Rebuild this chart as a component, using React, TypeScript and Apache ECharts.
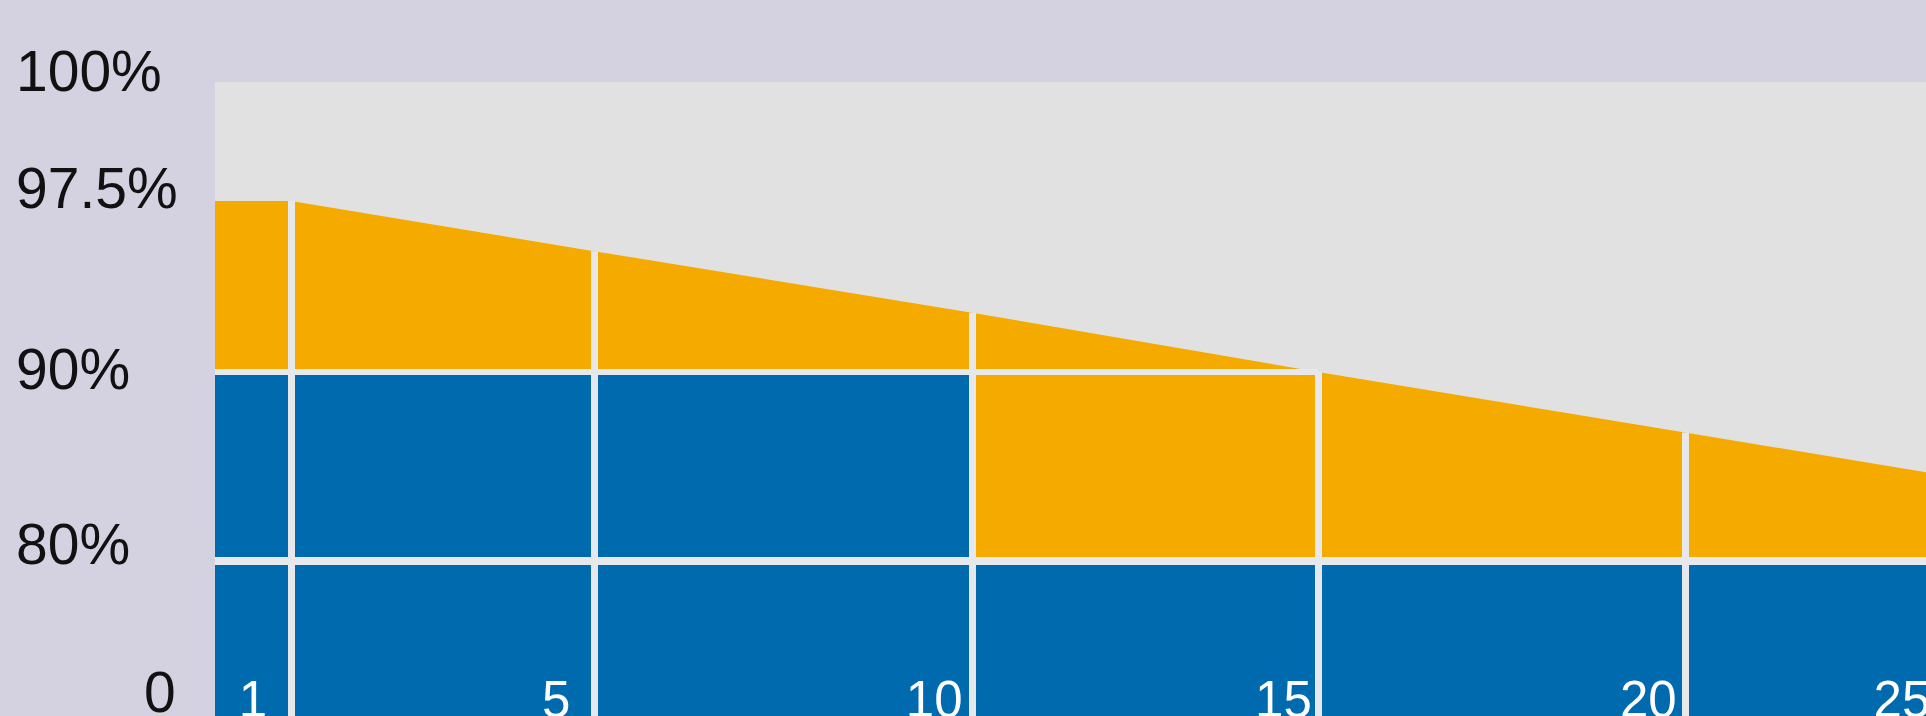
import React, { useEffect, useRef } from 'react';
import * as echarts from 'echarts';

// ---- Data ----
const years = [0, 1, 5, 10, 15, 20, 25];
const linearWarranty = [97.5, 97.5, 95.3, 92.6, 90.0, 86.8, 84.7];
const standardYears = [0, 10, 10, 25];
const standardWarranty = [90, 90, 80, 80];
const dividerYears = [1, 5, 10, 15, 20];
const xLabelYears = [1, 5, 10, 15, 20, 25];
const yTickValues = [0, 80, 90, 97.5, 100];
const yTickLabels = ['0', '80%', '90%', '97.5%', '100%'];

// ---- Broken (piecewise) axis scales: real value -> display units ----
const X_SCALE_VALUES = [0, 1, 5, 10, 15, 20, 25];
const X_SCALE_UNITS = [0, 76, 379, 757, 1103, 1470, 1711];
const Y_SCALE_VALUES = [0, 80, 90, 97.5, 100];
const Y_SCALE_UNITS = [0, 155, 344, 515, 634];

function piecewise(v: number, vs: number[], us: number[]): number {
  for (let i = 1; i < vs.length; i++) {
    if (v <= vs[i] || i === vs.length - 1) {
      const t = (v - vs[i - 1]) / (vs[i] - vs[i - 1]);
      return us[i - 1] + t * (us[i] - us[i - 1]);
    }
  }
  return us[0];
}
const X = (v: number) => piecewise(v, X_SCALE_VALUES, X_SCALE_UNITS);
const Y = (v: number) => piecewise(v, Y_SCALE_VALUES, Y_SCALE_UNITS);

const BLUE = '#006AAE';
const ORANGE = '#F5AA00';
const GAP = '#E7E8EB';
const FONT = '"Liberation Sans", Arial, Helvetica, sans-serif';

// per-label nudges (style)
const Y_LABEL_PAD_BOTTOM = [48, 34, 6, 26, 22];
const Y_LABEL_PAD_LEFT = [128, 0, 0, 0, 0];

export default function App() {
  const ref = useRef<HTMLDivElement>(null);

  useEffect(() => {
    if (!ref.current) return;
    const chart = echarts.init(ref.current, undefined, { renderer: 'svg' });

    const orangeData = years.map((yr, i) => [X(yr), Y(linearWarranty[i])]);
    const blueData = standardYears.map((yr, i) => [X(yr), Y(standardWarranty[i])]);

    const crossIdx = linearWarranty.findIndex((v) => v <= 90);
    const cross90Year = years[crossIdx];

    const gapLines: any[] = [];
    dividerYears.forEach((yr) => {
      const top = linearWarranty[years.indexOf(yr)];
      gapLines.push([
        { coord: [X(yr), Y(0)], lineStyle: { width: 7, color: GAP, type: 'solid' } },
        { coord: [X(yr), Y(top)] },
      ]);
    });
    gapLines.push([
      { coord: [X(0), Y(90)], lineStyle: { width: 6, color: GAP, type: 'solid' } },
      { coord: [X(cross90Year), Y(90)] },
    ]);
    gapLines.push([
      { coord: [X(0), Y(80)], lineStyle: { width: 8, color: GAP, type: 'solid' } },
      { coord: [X(25), Y(80)] },
    ]);

    const yCustom = yTickValues.map((v) => Y(v));
    const xCustom = xLabelYears.map((v) => X(v - 0.5));

    const rich: any = {};
    yTickLabels.forEach((_, i) => {
      rich['r' + i] = {
        fontSize: 57,
        fontFamily: FONT,
        color: '#111111',
        padding: [0, 0, Y_LABEL_PAD_BOTTOM[i], Y_LABEL_PAD_LEFT[i]],
      };
    });

    chart.setOption({
      animation: false,
      backgroundColor: '#D4D2E1',
      grid: {
        left: 215,
        top: 82,
        right: 0,
        bottom: 0,
        show: true,
        backgroundColor: '#E1E1E1',
        borderWidth: 0,
        containLabel: false,
        outerBoundsMode: 'none',
      },
      xAxis: {
        type: 'value',
        min: X(0),
        max: X(25),
        z: 20,
        axisLine: { show: false },
        axisTick: { show: false },
        splitLine: { show: false },
        axisLabel: {
          customValues: xCustom,
          color: '#FFFFFF',
          fontSize: 51,
          fontFamily: FONT,
          margin: -42,
          formatter: (val: number) => {
            const i = xCustom.findIndex((c) => Math.abs(c - val) < 1e-6);
            return i >= 0 ? String(xLabelYears[i]) : '';
          },
        },
      },
      yAxis: {
        type: 'value',
        min: Y(0),
        max: Y(100),
        axisLine: { show: false },
        axisTick: { show: false },
        splitLine: { show: false },
        axisLabel: {
          customValues: yCustom,
          align: 'left',
          verticalAlign: 'middle',
          margin: 199,
          rich,
          formatter: (val: number) => {
            const i = yCustom.findIndex((c) => Math.abs(c - val) < 1e-6);
            return i >= 0 ? `{r${i}|${yTickLabels[i]}}` : '';
          },
        },
      },
      series: [
        {
          name: 'Linear warranty',
          type: 'line',
          data: orangeData,
          symbol: 'none',
          lineStyle: { width: 0 },
          areaStyle: { color: ORANGE, opacity: 1 },
          z: 1,
          silent: true,
        },
        {
          name: 'Standard warranty',
          type: 'line',
          data: blueData,
          symbol: 'none',
          lineStyle: { width: 0 },
          areaStyle: { color: BLUE, opacity: 1 },
          z: 2,
          silent: true,
          markLine: {
            silent: true,
            symbol: ['none', 'none'],
            label: { show: false },
            emphasis: { disabled: true },
            data: gapLines,
          },
        },
      ],
    });

    return () => chart.dispose();
  }, []);

  return (
    <div
      ref={ref}
      style={{ position: 'absolute', left: 0, top: 0, width: 1926, height: 716 }}
    />
  );
}
